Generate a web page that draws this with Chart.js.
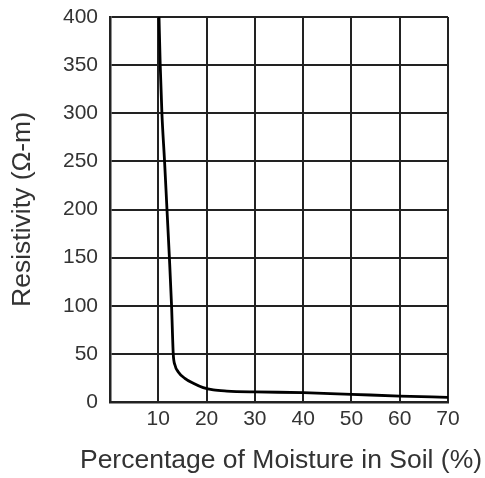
<!DOCTYPE html>
<html>
<head>
<meta charset="utf-8">
<script src="https://cdn.jsdelivr.net/npm/chart.js@4"></script>
<style>
  html, body { margin: 0; padding: 0; background: #fff; }
  #wrap { width: 485px; height: 478px; }
</style>
</head>
<body>
<div id="wrap"><canvas id="chart"></canvas></div>
<script>
// values
const moisture = [10.15, 10.4, 10.75, 11.3, 11.8, 12.3, 12.75, 13.1, 13.45, 14.1, 15.5, 17.25, 19.3, 21.4, 24.2, 30, 40, 50, 60, 70];
const resistivity = [400, 350, 300, 250, 200, 150, 100, 50, 38.4, 31.5, 24.6, 19.4, 14.9, 12.5, 11.4, 10.5, 9.7, 8, 6.2, 4.9];

const xTicks = [10, 20, 30, 40, 50, 60, 70];
const xTitle = 'Percentage of Moisture in Soil (%)';
const yTitle = 'Resistivity (Ω-m)';
const fontFamily = "'Liberation Sans', Arial, sans-serif";
const textColor = '#333';

const points = moisture.map((m, i) => ({ x: m, y: resistivity[i] }));

// scale title gets squeezed to the axis width, so draw the x title ourselves
const xTitlePlugin = {
  id: 'xTitle',
  afterDraw(chart) {
    const { ctx, chartArea } = chart;
    ctx.save();
    ctx.font = `26.5px ${fontFamily}`;
    ctx.fillStyle = textColor;
    ctx.textAlign = 'center';
    ctx.textBaseline = 'middle';
    ctx.fillText(xTitle, (chartArea.left + chartArea.right) / 2 + 2, 461);
    ctx.restore();
  }
};

new Chart(document.getElementById('chart'), {
  type: 'line',
  data: {
    datasets: [{
      data: points,
      borderColor: '#000',
      borderWidth: 2.8,
      pointRadius: 0,
      fill: false,
      cubicInterpolationMode: 'monotone'
    }]
  },
  options: {
    responsive: true,
    maintainAspectRatio: false,
    animation: false,
    layout: { padding: { top: 17, right: 37, left: 0, bottom: 0 } },
    plugins: { legend: { display: false }, tooltip: { enabled: false } },
    scales: {
      x: {
        type: 'linear',
        min: 0,
        max: 70,
        afterFit: s => { s.height = 76; s.paddingLeft = 0; s.paddingRight = 0; },
        afterBuildTicks: s => { s.ticks = [0].concat(xTicks).map(v => ({ value: v })); },
        ticks: {
          color: textColor,
          font: { family: fontFamily, size: 21 },
          padding: 5,
          callback: v => (v === 0 ? '' : v)
        },
        grid: { color: '#222', lineWidth: 2, drawTicks: false },
        border: { color: '#222', width: 2.5 }
      },
      y: {
        min: 0,
        max: 400,
        afterFit: s => { s.width = 110; s.paddingTop = 0; s.paddingBottom = 0; },
        ticks: {
          stepSize: 50,
          color: textColor,
          font: { family: fontFamily, size: 21 },
          padding: 12
        },
        grid: { color: '#222', lineWidth: 2, drawTicks: false },
        border: { color: '#222', width: 2.5 },
        title: {
          display: true,
          text: yTitle,
          color: textColor,
          font: { family: fontFamily, size: 26.5 },
          padding: { top: 7, bottom: 0 }
        }
      }
    }
  },
  plugins: [xTitlePlugin]
});
</script>
</body>
</html>
